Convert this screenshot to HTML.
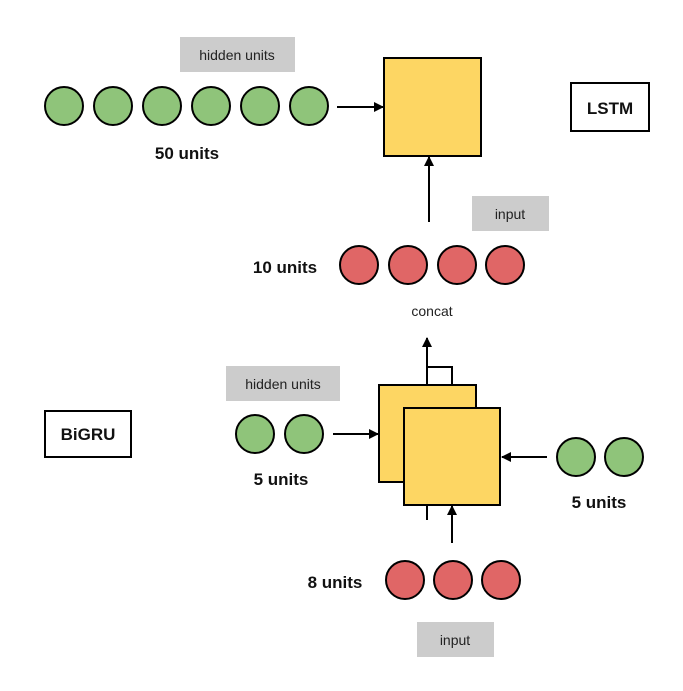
<!DOCTYPE html>
<html><head><meta charset="utf-8"><style>
html,body{margin:0;padding:0;background:#fff;}
svg{display:block;}
text{font-family:"Liberation Sans",Arial,sans-serif;}
</style></head><body>
<svg width="683" height="691" viewBox="0 0 683 691" xmlns="http://www.w3.org/2000/svg">
<defs>
<marker id="a" markerWidth="10" markerHeight="10" refX="9" refY="5" orient="auto" markerUnits="userSpaceOnUse">
<path d="M0,0 L10,5 L0,10 z" fill="#000"/>
</marker>
</defs>
<g stroke="#000" stroke-width="2">
<!-- LSTM top -->
<rect x="180" y="37" width="115" height="35" fill="#cccccc" stroke="none"/>
<text x="237" y="60" font-size="14" text-anchor="middle" stroke="none" fill="#222">hidden units</text>
<g fill="#8fc47a">
<circle cx="64" cy="106" r="19"/><circle cx="113" cy="106" r="19"/><circle cx="162" cy="106" r="19"/>
<circle cx="211" cy="106" r="19"/><circle cx="260" cy="106" r="19"/><circle cx="309" cy="106" r="19"/>
</g>
<text x="187" y="159" font-size="17" font-weight="bold" text-anchor="middle" stroke="none" fill="#111">50 units</text>
<line x1="337" y1="107" x2="383" y2="107" marker-end="url(#a)"/>
<rect x="384" y="58" width="97" height="98" fill="#fdd663"/>
<rect x="571" y="83" width="78" height="48" fill="#fff"/>
<text x="610" y="114" font-size="17" font-weight="bold" text-anchor="middle" stroke="none" fill="#111">LSTM</text>
<line x1="429" y1="222" x2="429" y2="157" marker-end="url(#a)"/>
<rect x="472" y="196" width="77" height="35" fill="#cccccc" stroke="none"/>
<text x="510" y="219" font-size="14" text-anchor="middle" stroke="none" fill="#222">input</text>
<text x="285" y="273" font-size="17" font-weight="bold" text-anchor="middle" stroke="none" fill="#111">10 units</text>
<g fill="#e06666">
<circle cx="359" cy="265" r="19"/><circle cx="408" cy="265" r="19"/><circle cx="457" cy="265" r="19"/><circle cx="505" cy="265" r="19"/>
</g>
<text x="432" y="316" font-size="14" text-anchor="middle" stroke="none" fill="#222">concat</text>
<!-- BiGRU -->
<rect x="45" y="411" width="86" height="46" fill="#fff"/>
<text x="88" y="440" font-size="17" font-weight="bold" text-anchor="middle" stroke="none" fill="#111">BiGRU</text>
<rect x="226" y="366" width="114" height="35" fill="#cccccc" stroke="none"/>
<text x="283" y="389" font-size="14" text-anchor="middle" stroke="none" fill="#222">hidden units</text>
<g fill="#8fc47a">
<circle cx="255" cy="434" r="19"/><circle cx="304" cy="434" r="19"/>
<circle cx="576" cy="457" r="19"/><circle cx="624" cy="457" r="19"/>
</g>
<text x="281" y="485" font-size="17" font-weight="bold" text-anchor="middle" stroke="none" fill="#111">5 units</text>
<text x="599" y="508" font-size="17" font-weight="bold" text-anchor="middle" stroke="none" fill="#111">5 units</text>
<line x1="333" y1="434" x2="378" y2="434" marker-end="url(#a)"/>
<polyline points="427,385 427,367 452,367 452,408" fill="none"/>
<line x1="427" y1="385" x2="427" y2="338" marker-end="url(#a)"/>
<rect x="379" y="385" width="97" height="97" fill="#fdd663"/>
<rect x="404" y="408" width="96" height="97" fill="#fdd663"/>
<line x1="547" y1="457" x2="502" y2="457" marker-end="url(#a)"/>
<line x1="427" y1="505" x2="427" y2="520"/>
<line x1="452" y1="543" x2="452" y2="506" marker-end="url(#a)"/>
<text x="335" y="588" font-size="17" font-weight="bold" text-anchor="middle" stroke="none" fill="#111">8 units</text>
<g fill="#e06666">
<circle cx="405" cy="580" r="19"/><circle cx="453" cy="580" r="19"/><circle cx="501" cy="580" r="19"/>
</g>
<rect x="417" y="622" width="77" height="35" fill="#cccccc" stroke="none"/>
<text x="455" y="645" font-size="14" text-anchor="middle" stroke="none" fill="#222">input</text>
</g>
</svg>
</body></html>
